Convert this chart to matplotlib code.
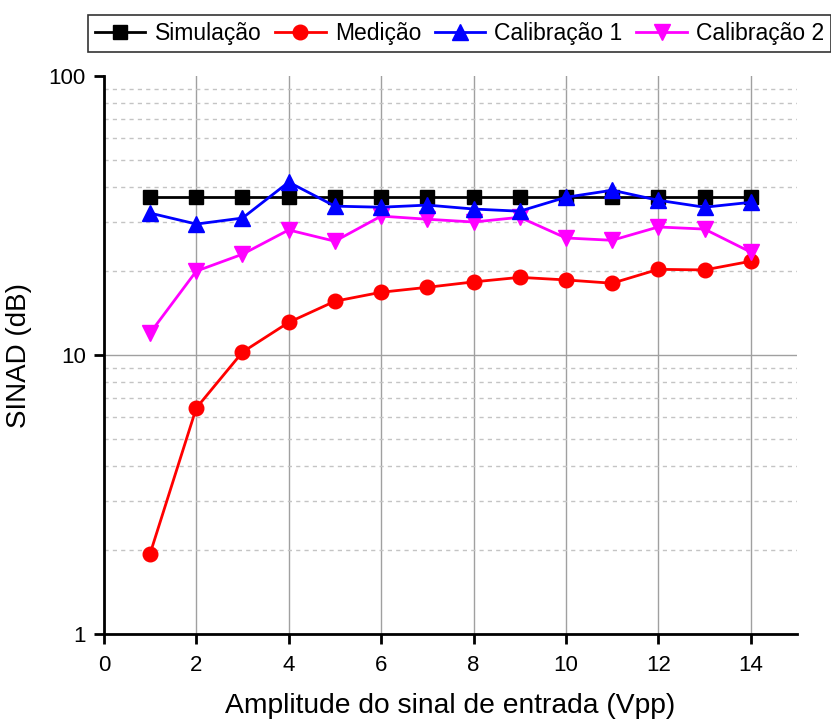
import matplotlib
matplotlib.use("Agg")
import matplotlib.pyplot as plt
from matplotlib.ticker import LogLocator, FixedLocator, NullFormatter

plt.rcParams['font.family'] = ['Liberation Sans', 'DejaVu Sans']

x = [1, 2, 3, 4, 5, 6, 7, 8, 9, 10, 11, 12, 13, 14]
simulacao = [37, 37, 37, 37, 37, 37, 37, 37, 37, 37, 37, 37, 37, 37]
medicao = [1.94, 6.46, 10.25, 13.1, 15.6, 16.8, 17.5, 18.3, 19.0, 18.6, 18.1, 20.3, 20.2, 21.7]
calib1 = [32.3, 29.5, 31.0, 41.7, 34.2, 33.9, 34.5, 33.4, 32.8, 36.8, 39.0, 35.9, 33.9, 35.3]
calib2 = [12.0, 20.0, 23.0, 28.1, 25.6, 31.5, 30.7, 30.0, 31.2, 26.3, 25.8, 28.8, 28.3, 23.4]
labels = ['Simulação', 'Medição', 'Calibração 1', 'Calibração 2']
xticks = [0, 2, 4, 6, 8, 10, 12, 14]
yticks = [1, 10, 100]
ytick_labels = ['1', '10', '100']

fig = plt.figure(figsize=(8.31, 7.2), dpi=100)
ax = fig.add_axes([0.125, 0.1194, 0.834, 0.7748])

ax.plot(x, simulacao, color='black', marker='s', ms=9.5, lw=2, label=labels[0], zorder=3)
ax.plot(x, medicao, color='red', marker='o', ms=10.5, lw=2, label=labels[1], zorder=4)
ax.plot(x, calib1, color='blue', marker='^', ms=12, lw=2, label=labels[2], zorder=5)
ax.plot(x, calib2, color='magenta', marker='v', ms=12, lw=2, label=labels[3], zorder=4)

ax.set_yscale('log')
ax.set_xlim(0, 15)
ax.set_ylim(1, 100)
ax.xaxis.set_major_locator(FixedLocator(xticks))
ax.yaxis.set_major_locator(FixedLocator(yticks))
ax.set_yticklabels(ytick_labels)
ax.yaxis.set_minor_locator(LogLocator(base=10, subs=range(2, 10)))
ax.yaxis.set_minor_formatter(NullFormatter())

ax.grid(True, which='major', axis='both', color='#a0a0a0', lw=1, ls='-')
ax.grid(True, which='minor', axis='y', color='#c4c4c4', lw=1, ls=(0, (3, 3)))
ax.set_axisbelow(True)
# no grid line along the top edge (at 100)
ygl = ax.yaxis.get_gridlines()
ygl[-1].set_visible(False)

for s in ['top', 'right']:
    ax.spines[s].set_visible(False)
for s in ['left', 'bottom']:
    ax.spines[s].set_linewidth(2)
ax.tick_params(axis='both', which='major', direction='out', length=7, width=2, labelsize=16)
ax.tick_params(axis='x', which='major', pad=8)
ax.tick_params(axis='y', which='major', pad=6)
ax.tick_params(axis='y', which='minor', length=0)

ax.set_xlabel('Amplitude do sinal de entrada (Vpp)', fontsize=20.3, labelpad=12)
ax.set_ylabel('SINAD (dB)', fontsize=20, labelpad=12)

leg = fig.legend(loc='upper right', bbox_to_anchor=(1.0, 0.979), ncol=4, fontsize=16.5,
                 frameon=True, fancybox=False, edgecolor='black', handlelength=2.2,
                 handletextpad=0.4, columnspacing=0.6, borderpad=0.3, borderaxespad=0)
leg.get_frame().set_linewidth(1.2)

fig.savefig('out.png', dpi=100)
